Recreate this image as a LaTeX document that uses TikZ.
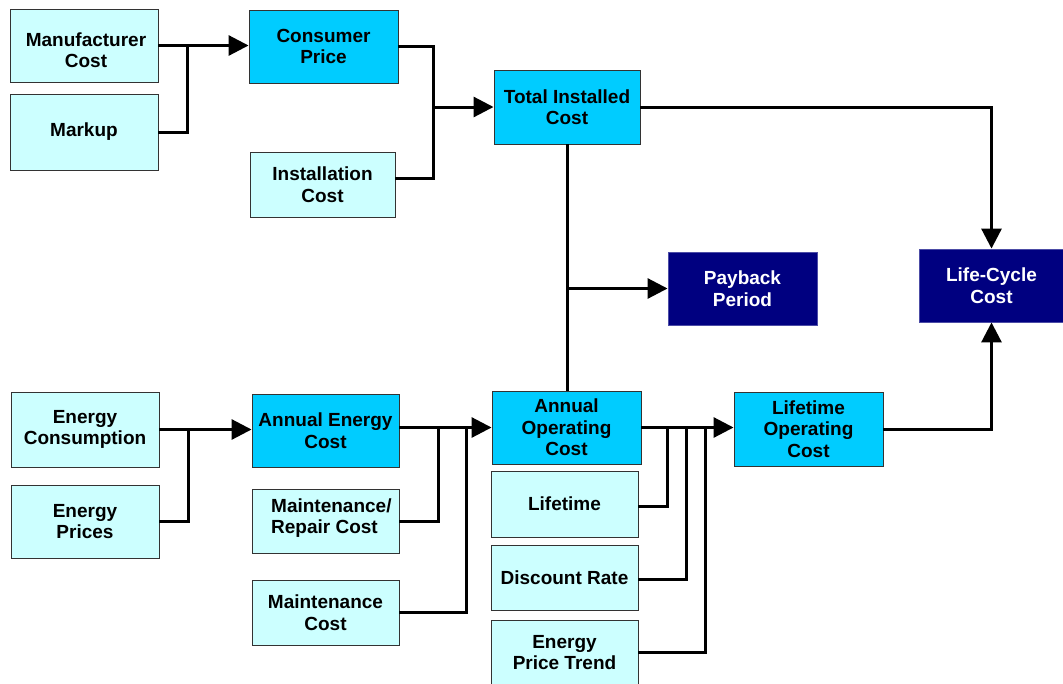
\documentclass[tikz,border=0pt]{standalone}
\usepackage{fontspec}
\setmainfont{Liberation Sans}
\usetikzlibrary{arrows.meta}
\definecolor{lightc}{HTML}{CCFFFF}
\definecolor{midc}{HTML}{00CCFF}
\definecolor{navyc}{HTML}{000080}
\begin{document}
\begin{tikzpicture}[x=1pt,y=-1pt,
  box/.style={draw=black!80, line width=0.9pt, inner sep=2pt, align=center,
    font=\fontsize{19}{21.5}\selectfont\bfseries},
  lbox/.style={box, fill=lightc},
  cbox/.style={box, fill=midc},
  nbox/.style={box, fill=navyc, draw=navyc!70!white, text=white},
  conn/.style={line width=3pt},
  arr/.style={conn, -{Triangle[length=20pt,width=20pt]}}]
\useasboundingbox (0,0) rectangle (1063,683);

% top chain
\node[lbox, minimum width=148pt, minimum height=73pt] (mc) at (84,45.5) {};
\node[font=\fontsize{19}{21.5}\selectfont\bfseries, align=center, inner sep=0pt] (mct) at (86,50) {Manufacturer\\Cost};
\node[lbox, minimum width=148pt, minimum height=76pt] (mk) at (84,132) {Markup};
\node[cbox, minimum width=149pt, minimum height=73pt] (cp) at (323.5,46.5) {Consumer\\Price};
\node[lbox, minimum width=145pt, minimum height=65pt] (ic) at (322.5,184.5) {Installation\\Cost};
\node[cbox, minimum width=146pt, minimum height=74pt] (tic) at (567,107) {Total Installed\\Cost};
\node[nbox, minimum width=149pt, minimum height=73pt] (pp) at (742.5,288.5) {Payback\\Period};
\node[nbox, minimum width=145pt, minimum height=73pt] (lcc) at (991.5,285.5) {Life-Cycle\\Cost};

% bottom chain
\node[lbox, minimum width=148pt, minimum height=75pt] (ec) at (85,429.5) {Energy\\Consumption};
\node[lbox, minimum width=148pt, minimum height=73pt] (ep) at (85,521.5) {Energy\\Prices};
\node[cbox, minimum width=147pt, minimum height=73pt] (aec) at (325.5,430.5) {Annual Energy\\Cost};
\node[lbox, minimum width=147pt, minimum height=64pt] (mrc) at (325.5,521) {};
\node[font=\fontsize{19}{21.5}\selectfont\bfseries, align=left, anchor=west, inner sep=0pt] (mrct) at (271,518) {Maintenance/\\Repair Cost};
\node[lbox, minimum width=147pt, minimum height=65pt] (mcc) at (325.5,612.5) {Maintenance\\Cost};
\node[cbox, minimum width=149pt, minimum height=73pt] (aoc) at (566.5,427.5) {Annual\\Operating\\Cost};
\node[lbox, minimum width=147pt, minimum height=66pt] (lt) at (564.5,504) {Lifetime};
\node[lbox, minimum width=147pt, minimum height=65pt] (dr) at (564.5,577.5) {Discount Rate};
\node[lbox, minimum width=147pt, minimum height=65pt] (ept) at (564.5,652.5) {Energy\\Price Trend};
\node[cbox, minimum width=149pt, minimum height=74pt] (loc) at (808.5,429) {Lifetime\\Operating\\Cost};

% junction coordinates
\coordinate (j1) at (187,45.5);
\coordinate (j2) at (433,107);
\coordinate (j3) at (567,288.5);
\coordinate (j4) at (188,429.5);
\coordinate (j5) at (438,427.5);
\coordinate (j6) at (466,427.5);
\coordinate (j7) at (667,427.5);
\coordinate (j8) at (686,427.5);
\coordinate (j9) at (705,427.5);

% top connectors
\draw[arr] (mc.east) -- (mc.east -| cp.west);
\draw[conn] (mk.east) -| (j1);
\draw[conn] (cp.east) -| (j2) |- ([yshift=6.5pt]ic.east);
\draw[arr] (j2) -- (tic.west);
\draw[arr] (tic.east) -| (lcc.north);
\draw[conn] (tic.south) -- (tic.south |- aoc.north);
\draw[arr] (j3) -- (pp.west);

% bottom connectors
\draw[arr] (ec.east) -- (ec.east -| aec.west);
\draw[conn] (ep.east) -| (j4);
\draw[arr] (aoc.west -| aec.east) -- (aoc.west);
\draw[conn] (mrc.east) -| (j5);
\draw[conn] (mcc.east) -| (j6);
\draw[arr] (aoc.east) -- (aoc.east -| loc.west);
\draw[conn] ([yshift=-2pt]lt.east) -| (j7);
\draw[conn] ([yshift=-1.5pt]dr.east) -| (j8);
\draw[conn] (ept.east) -| (j9);
\draw[arr] (loc.east) -| (lcc.south);
\end{tikzpicture}
\end{document}
